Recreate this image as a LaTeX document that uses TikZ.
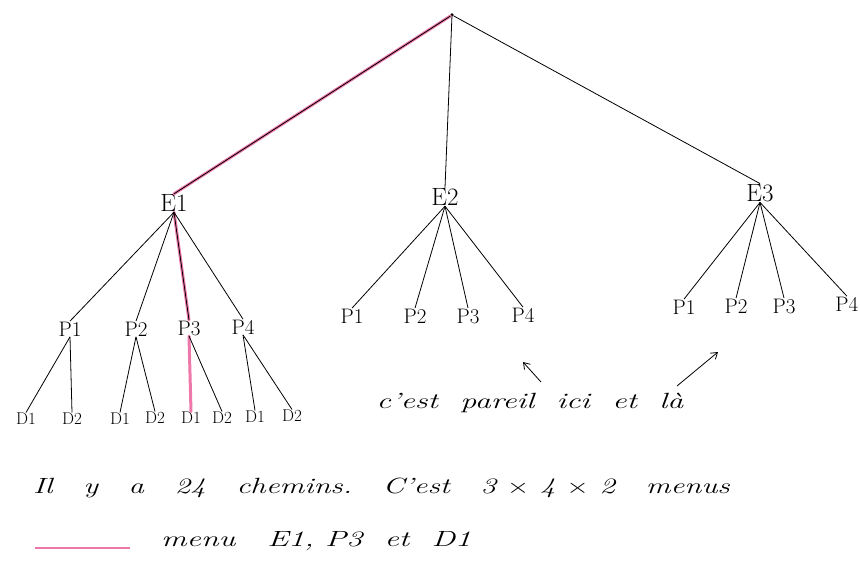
\documentclass[tikz,border=0pt]{standalone}
\usepackage{graphicx}
\usetikzlibrary{arrows.meta}
\definecolor{hl}{RGB}{238,120,170}
\begin{document}
\begin{tikzpicture}[x=1pt,y=-1pt,
  ln/.style={line width=0.8pt, black},
  hlline/.style={line width=3pt, hl, line cap=round},
  elbl/.style={inner sep=0.5pt, font=\fontsize{25}{25}\selectfont},
  plbl/.style={inner sep=0.5pt, font=\fontsize{21}{21}\selectfont},
  dlbl/.style={inner sep=0.5pt, font=\fontsize{17}{17}\selectfont},
  txt/.style={inner sep=1pt, font=\fontsize{22}{22}\selectfont\itshape, anchor=west},
  arr/.style={line width=0.8pt, -{Straight Barb[length=6pt,width=8pt]}}
]
\useasboundingbox[fill=white] (0,0) rectangle (860,563);

% root
\node[circle, fill=black, inner sep=1.3pt] (r) at (452,15) {};

% level E
\node[elbl] (E1) at (174,203) {E1};
\node[elbl] (E2) at (445,197) {E2};
\node[elbl] (E3) at (760,193) {E3};

% P under E1
\node[plbl] (a1) at (70,329) {P1};
\node[plbl] (a2) at (136,329) {P2};
\node[plbl] (a3) at (189,328) {P3};
\node[plbl] (a4) at (243,327) {P4};
% P under E2
\node[plbl] (b1) at (352,316) {P1};
\node[plbl] (b2) at (415,316) {P2};
\node[plbl] (b3) at (468,316) {P3};
\node[plbl] (b4) at (523,315) {P4};
% P under E3
\node[plbl] (c1) at (684,307) {P1};
\node[plbl] (c2) at (736,306) {P2};
\node[plbl] (c3) at (784,306) {P3};
\node[plbl, anchor=east] (c4) at (859,304) {P4};

% D labels
\node[dlbl] (d11) at (26,419) {D1};
\node[dlbl] (d12) at (72,419) {D2};
\node[dlbl] (d21) at (120,419) {D1};
\node[dlbl] (d22) at (155,418) {D2};
\node[dlbl] (d31) at (191,418) {D1};
\node[dlbl] (d32) at (222,418) {D2};
\node[dlbl] (d41) at (255,417) {D1};
\node[dlbl] (d42) at (292,416) {D2};

% highlighted path
\draw[hlline] (r) -- (E1.north);
\draw[hlline] (E1.south) -- (a3.north);
\draw[hlline] (a3.south) -- (d31.north);

% connectors
\draw[ln] (r) -- (E1.north);
\draw[ln] (r) -- (E2.north);
\draw[ln] (r) -- (E3.north);
\foreach \p in {a1,a2,a3,a4} \draw[ln] (E1.south) -- (\p.north);
\foreach \p in {b1,b2,b3,b4} \draw[ln] (E2.south) -- (\p.north);
\foreach \p in {c1,c2,c3,c4} \draw[ln] (E3.south) -- (\p.north);
\draw[ln] (a1.south) -- (d11.north);
\draw[ln] (a1.south) -- (d12.north);
\draw[ln] (a2.south) -- (d21.north);
\draw[ln] (a2.south) -- (d22.north);
\draw[ln] (a3.south) -- (d32.north);
\draw[ln] (a4.south) -- (d41.north);
\draw[ln] (a4.south) -- (d42.north);

% note with arrows
\node[txt, anchor=center] (note) at (530,403) {\scalebox{1.45}[1]{c'est\ \ pareil\ \ ici\ \ et\ \ là}};
\coordinate (t1) at (523,362);
\coordinate (t2) at (718,352);
\draw[arr] (541,382) -- (t1);
\draw[arr] (677,386) -- (t2);

% bottom text
\node[txt] (l1) at (32,488) {\scalebox{1.4}[1]{Il\quad y\quad a\quad 24\quad chemins.\quad C'est\quad 3 $\times$ 4 $\times$ 2\quad menus}};
\coordinate (k1) at (35,548);
\coordinate (k2) at (130,548);
\draw[hl, line width=2.5pt] (k1) -- (k2);
\node[txt] (l2) at (160,541) {\scalebox{1.45}[1]{menu\quad E1, P3\ \ et\ \ D1}};
\end{tikzpicture}
\end{document}
